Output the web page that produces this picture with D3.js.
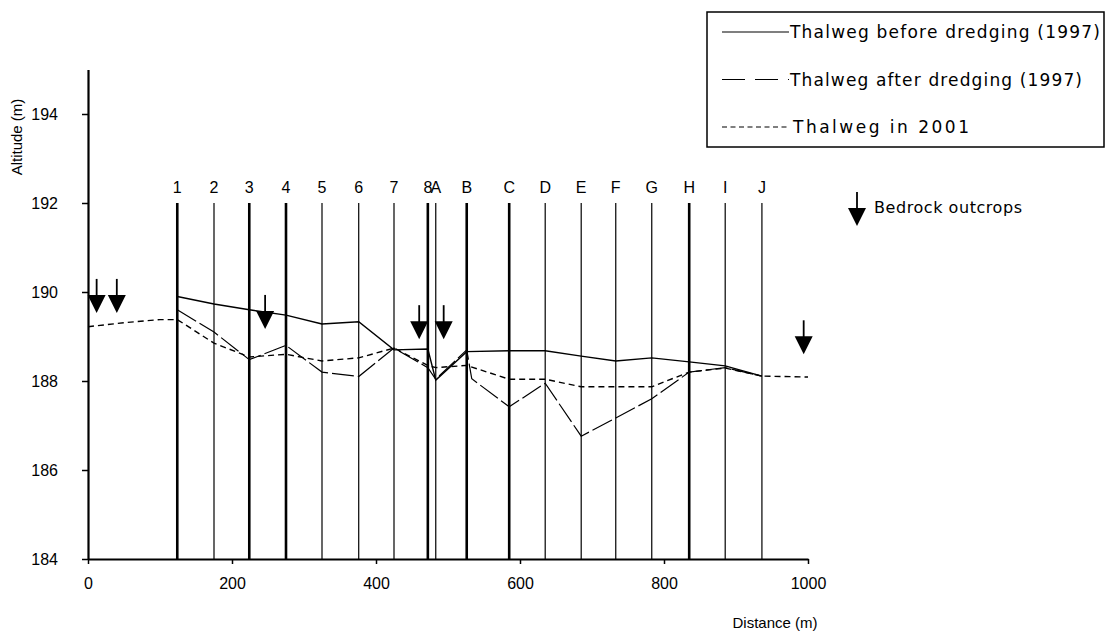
<!DOCTYPE html>
<html>
<head>
<meta charset="utf-8">
<script src="https://cdn.jsdelivr.net/npm/d3@7"></script>
<style>
body { margin: 0; background: #fff; }
text { font-family: "Liberation Sans", Arial, sans-serif; fill: #000; }
</style>
</head>
<body>
<script>
// cross sections along the reach
let sectionNames = ["1","2","3","4","5","6","7","8","A","B","C","D","E","F","G","H","I","J"];
let sectionDist = [124, 175, 224, 275, 325, 376, 425, 472, 483, 526, 585, 635, 685, 733, 783, 835, 885, 936];
let sectionBold = [1, 0, 1, 1, 0, 0, 0, 1, 0, 1, 1, 0, 0, 0, 0, 1, 0, 0];

// thalweg before dredging (1997)
let beforeDist = [124, 175, 224, 275, 325, 376, 425, 472, 483, 526, 585, 635, 685, 733, 783, 835, 885, 936];
let beforeAlt = [189.9, 189.73, 189.6, 189.48, 189.28, 189.33, 188.7, 188.72, 188.02, 188.66, 188.68, 188.68, 188.56, 188.45, 188.52, 188.43, 188.34, 188.11];

// thalweg after dredging (1997)
let afterDist = [124, 175, 224, 275, 325, 376, 425, 472, 483, 526, 533, 585, 635, 685, 733, 783, 835, 885, 936];
let afterAlt = [189.6, 189.1, 188.48, 188.8, 188.2, 188.1, 188.74, 188.3, 188.04, 188.7, 188.05, 187.42, 187.95, 186.76, 187.17, 187.6, 188.2, 188.3, 188.11];

// thalweg in 2001
let y2001Dist = [0, 50, 100, 124, 175, 224, 275, 325, 376, 425, 472, 483, 526, 585, 635, 685, 733, 783, 835, 885, 936, 1000];
let y2001Alt = [189.22, 189.31, 189.38, 189.38, 188.85, 188.54, 188.6, 188.45, 188.52, 188.74, 188.35, 188.3, 188.35, 188.04, 188.04, 187.87, 187.87, 187.87, 188.2, 188.29, 188.11, 188.09];

// bedrock outcrops (arrow tips)
let outcropDist = [12, 40, 246, 460, 494, 994];
let outcropAlt = [189.53, 189.53, 189.17, 188.94, 188.94, 188.6];

let xTicks = [0, 200, 400, 600, 800, 1000];
let yTicks = [184, 186, 188, 190, 192, 194];

let width = 1108, height = 635;

let svg = d3.select("body").append("svg")
    .attr("width", width)
    .attr("height", height);

let x = d3.scaleLinear().domain([0, 1000]).range([88, 808]);
let y = d3.scaleLinear().domain([184, 195]).range([559, 69.5]);

// cross section lines
svg.append("g").selectAll("line")
    .data(sectionDist)
    .enter().append("line")
    .attr("x1", d => x(d)).attr("x2", d => x(d))
    .attr("y1", y(184)).attr("y2", y(192))
    .attr("stroke", "#000")
    .attr("stroke-width", (d, i) => sectionBold[i] ? 2.6 : 1.2);

svg.append("g").selectAll("text")
    .data(sectionNames)
    .enter().append("text")
    .attr("x", (d, i) => x(sectionDist[i]))
    .attr("y", y(192) - 10)
    .attr("text-anchor", "middle")
    .style("font-size", "16px")
    .text(d => d);

// profiles
let line = d3.line().x(d => x(d[0])).y(d => y(d[1]));

function profile(dist, alt, dash, w) {
    svg.append("path")
        .datum(d3.zip(dist, alt))
        .attr("d", line)
        .attr("fill", "none")
        .attr("stroke", "#000")
        .attr("stroke-width", w)
        .attr("stroke-dasharray", dash);
}
profile(beforeDist, beforeAlt, null, 1.4);
profile(afterDist, afterAlt, "22,4", 1.2);
profile(y2001Dist, y2001Alt, "6,4", 1.4);

// axes
let xAxis = svg.append("g")
    .attr("transform", "translate(0," + y(184) + ")")
    .call(d3.axisBottom(x).tickValues(xTicks).tickSize(5).tickSizeOuter(0).tickPadding(14).tickFormat(d3.format("d")));
let yAxis = svg.append("g")
    .attr("transform", "translate(" + x(0) + ",0)")
    .call(d3.axisLeft(y).tickValues(yTicks).tickSize(6).tickSizeOuter(0).tickPadding(24).tickFormat(d3.format("d")));
[xAxis, yAxis].forEach(a => {
    a.select(".domain").attr("stroke-width", 2.2);
    a.selectAll(".tick line").attr("stroke-width", 1.5);
    a.selectAll("text").style("font-size", "16px").style("font-family", "Liberation Sans, Arial, sans-serif");
});

svg.append("text")
    .attr("x", 775).attr("y", 628)
    .attr("text-anchor", "middle")
    .style("font-size", "15px")
    .text("Distance (m)");
svg.append("text")
    .attr("transform", "translate(22,137) rotate(-90)")
    .attr("text-anchor", "middle")
    .style("font-size", "15px")
    .text("Altitude (m)");

// outcrop arrows
function arrow(g) {
    g.append("line").attr("x1", 0).attr("x2", 0).attr("y1", -34).attr("y2", -16)
        .attr("stroke", "#000").attr("stroke-width", 1.8);
    g.append("path").attr("d", "M-9,-18H9L0,0Z").attr("fill", "#000");
}
svg.append("g").selectAll("g")
    .data(outcropDist)
    .enter().append("g")
    .attr("transform", (d, i) => "translate(" + x(d) + "," + y(outcropAlt[i]) + ")")
    .each(function () { arrow(d3.select(this)); });

let bedrock = svg.append("g").attr("transform", "translate(857,226)");
arrow(bedrock);
svg.append("text")
    .attr("x", 874).attr("y", 213)
    .style("font-size", "16px")
    .style("font-family", "DejaVu Sans, sans-serif")
    .attr("textLength", 148)
    .text("Bedrock outcrops");

// legend
let legendNames = ["Thalweg before dredging (1997)", "Thalweg after dredging (1997)", "Thalweg in 2001"];
let legendDash = [null, "23,10", "5,3.5"];
let legendLen = [310, 292, 176];
let legend = svg.append("g");
legend.append("rect")
    .attr("x", 707).attr("y", 12).attr("width", 397).attr("height", 135)
    .attr("fill", "none").attr("stroke", "#000").attr("stroke-width", 1.5);
legendNames.forEach((n, i) => {
    let ly = 32 + i * 47.5;
    legend.append("line")
        .attr("x1", 722).attr("x2", 789).attr("y1", ly).attr("y2", ly)
        .attr("stroke", "#000").attr("stroke-width", 1.2)
        .attr("stroke-dasharray", legendDash[i]);
    legend.append("text")
        .attr("x", i == 2 ? 793 : 790).attr("y", ly + 6)
        .style("font-size", "17px")
        .style("font-family", "DejaVu Sans, sans-serif")
        .attr("textLength", legendLen[i])
        .text(n);
});
</script>
</body>
</html>
